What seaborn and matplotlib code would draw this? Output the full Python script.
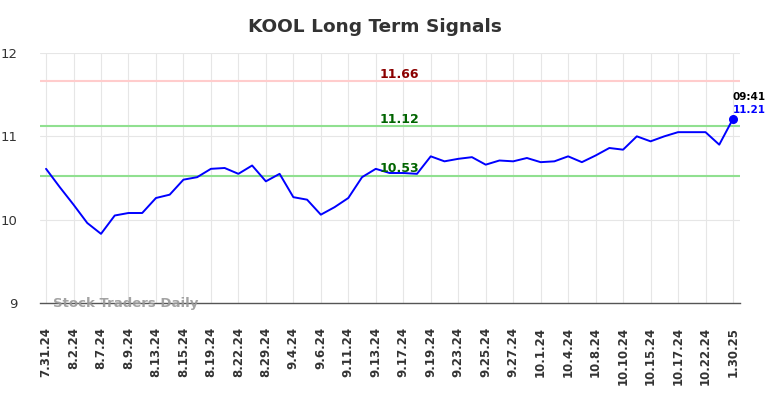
import matplotlib
matplotlib.use("Agg")
import matplotlib.pyplot as plt
import seaborn as sns
import pandas as pd

dates = ["7.31.24", "8.1.24", "8.2.24", "8.6.24", "8.7.24", "8.8.24", "8.9.24", "8.12.24",
         "8.13.24", "8.14.24", "8.15.24", "8.16.24", "8.19.24", "8.21.24", "8.22.24", "8.27.24",
         "8.29.24", "8.30.24", "9.4.24", "9.5.24", "9.6.24", "9.10.24", "9.11.24", "9.12.24",
         "9.13.24", "9.16.24", "9.17.24", "9.18.24", "9.19.24", "9.20.24", "9.23.24", "9.24.24",
         "9.25.24", "9.26.24", "9.27.24", "9.30.24", "10.1.24", "10.3.24", "10.4.24", "10.7.24",
         "10.8.24", "10.9.24", "10.10.24", "10.14.24", "10.15.24", "10.16.24", "10.17.24",
         "10.21.24", "10.22.24", "10.23.24", "1.30.25"]
prices = [10.61, 10.39, 10.18, 9.96, 9.83, 10.05, 10.08, 10.08, 10.26, 10.30, 10.48, 10.51,
          10.61, 10.62, 10.55, 10.65, 10.46, 10.55, 10.27, 10.24, 10.06, 10.15, 10.26, 10.51,
          10.61, 10.56, 10.56, 10.55, 10.76, 10.70, 10.73, 10.75, 10.66, 10.71, 10.70, 10.74,
          10.69, 10.70, 10.76, 10.69, 10.77, 10.86, 10.84, 11.00, 10.94, 11.00, 11.05, 11.05,
          11.05, 10.90, 11.21]
signal_levels = [11.66, 11.12, 10.53]
signal_line_colors = ["#ffcccc", "#90e090", "#90e090"]
signal_text_colors = ["#8b0000", "#006400", "#006400"]
y_ticks = [9, 10, 11, 12]
last_time = "09:41"
last_price_label = "11.21"

df = pd.DataFrame({"idx": range(len(dates)), "date": dates, "price": prices})

sns.set_style("whitegrid")
plt.rcParams['font.family'] = ['DejaVu Sans']

fig = plt.figure(figsize=(7.84, 3.98), dpi=100)
ax = fig.add_axes([40/784, 1 - 303/398, 700/784, 250/398])

for lvl, lc, tc in zip(signal_levels, signal_line_colors, signal_text_colors):
    ax.axhline(lvl, color=lc, lw=1.5, zorder=1)
    ax.text(25.7, lvl + 0.005, f"{lvl:.2f}", color=tc, fontsize=9, fontweight="bold",
            ha="center", va="bottom", zorder=3)

sns.lineplot(data=df, x="idx", y="price", ax=ax, color="#0000ff", lw=1.4, zorder=2)
ax.scatter([df["idx"].iloc[-1]], [df["price"].iloc[-1]], color="#0000ff", s=30, zorder=4)

ax.text(df["idx"].iloc[-1], df["price"].iloc[-1] + 0.2, last_time, color="black",
        fontsize=7.5, fontweight="bold", ha="left", va="bottom")
ax.text(df["idx"].iloc[-1], df["price"].iloc[-1] + 0.05, last_price_label, color="#0000ff",
        fontsize=7.5, fontweight="bold", ha="left", va="bottom")

ax.set_xlim(-0.44, 50.51)
ax.set_ylim(9, 12)
ax.set_yticks(y_ticks)
ax.set_yticklabels([str(t) for t in y_ticks], fontsize=9.5, color="#333333")
tick_pos = list(range(0, len(dates), 2))
ax.set_xticks(tick_pos)
ax.set_xticklabels([dates[i] for i in tick_pos], rotation=90, fontsize=8.5,
                   fontweight="bold", color="#333333")
ax.tick_params(axis="x", length=0, pad=17)
ax.tick_params(axis="y", length=0, pad=16)
ax.set_xlabel("")
ax.set_ylabel("")

ax.grid(True, color="#e6e6e6", lw=0.8)
for s in ["left", "right", "top"]:
    ax.spines[s].set_visible(False)
ax.spines["bottom"].set_visible(True)
ax.spines["bottom"].set_color("#555555")
ax.spines["bottom"].set_linewidth(1.0)

ax.text(0.5, 9.0, "Stock Traders Daily", color="#999999", fontsize=9.5, fontweight="bold",
        ha="left", va="center", alpha=0.9, zorder=5)

fig.text(375/784, 1 - 27/398, "KOOL Long Term Signals", fontsize=13.3, fontweight="bold",
         color="#333333", ha="center", va="center")

fig.savefig("out.png", dpi=100)
